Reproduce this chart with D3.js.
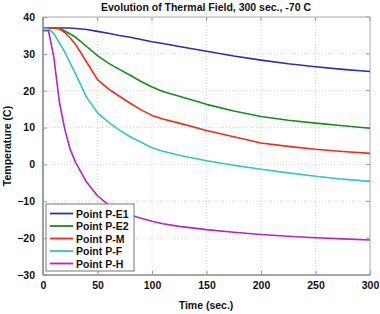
<!DOCTYPE html>
<html><head><meta charset="utf-8">
<script src="https://cdn.jsdelivr.net/npm/d3@7"></script>
<style>
body{margin:0;background:#fff;}
text{font-family:"Liberation Sans",Arial,sans-serif;font-weight:bold;fill:#111;}
</style></head>
<body><svg id="c" width="380" height="314"></svg>
<script>
const title = "Evolution of Thermal Field, 300 sec., -70 C";
const xLabel = "Time (sec.)";
const yLabel = "Temperature (C)";
const xTicks = [0,50,100,150,200,250,300];
const yTicks = [-30,-20,-10,0,10,20,30,40];
const seriesNames = ["Point P-E1","Point P-E2","Point P-M","Point P-F","Point P-H"];
const seriesColors = ["#2b30a8","#1a8a1a","#f22a1a","#33c4c4","#b326c0"];
const time = [0,5,10,15,20,25,30,40,50,60,70,80,90,100,110,125,150,175,200,225,250,275,300];
const tE1 = [37,37,37,37,37,37,36.9,36.6,36.1,35.6,35.0,34.5,33.9,33.3,32.8,32.0,30.7,29.4,28.3,27.3,26.5,25.8,25.2];
const tE2 = [37,37,37,36.9,36.2,35.4,34.5,32.0,29.5,27.5,25.8,24.2,22.5,21.0,19.8,18.5,16.3,14.5,13.0,12.0,11.2,10.5,9.8];
const tM  = [37,37,37,36.8,35.8,34.3,32.5,27.8,23.0,20.5,18.5,16.6,14.8,13.3,12.3,11.2,9.2,7.5,5.8,4.9,4.1,3.5,3.0];
const tF  = [37,36.8,35.5,33.0,30.5,27.5,24.5,18.2,14.0,11.5,9.3,7.5,6.0,4.5,3.6,2.5,1.0,-0.2,-1.3,-2.3,-3.2,-4.0,-4.6];
const tH  = [36.3,36.3,29.0,17.0,9.5,4.0,0.5,-4.8,-8.5,-11.0,-12.5,-13.7,-14.6,-15.4,-16.1,-16.8,-17.7,-18.4,-19.0,-19.5,-19.9,-20.2,-20.5];
const allSeries = [tE1,tE2,tM,tF,tH];

const svg = d3.select("#c");
const L=43,R=370,T=17,B=275;
const x = d3.scaleLinear().domain([0,300]).range([L,R]);
const y = d3.scaleLinear().domain([-30,40]).range([B,T]);

// grid
const g = svg.append("g");
g.selectAll(".gx").data(xTicks.slice(1,-1)).enter().append("line")
  .attr("x1",d=>x(d)).attr("x2",d=>x(d)).attr("y1",T).attr("y2",B)
  .attr("stroke","#d0d0d0").attr("stroke-width",0.8).attr("stroke-dasharray","1,2");
g.selectAll(".gy").data(yTicks.slice(1,-1)).enter().append("line")
  .attr("y1",d=>y(d)).attr("y2",d=>y(d)).attr("x1",L).attr("x2",R)
  .attr("stroke","#d0d0d0").attr("stroke-width",0.8).attr("stroke-dasharray","1,2");

// axes
const xAxis = d3.axisBottom(x).tickValues(xTicks).tickSize(-4).tickPadding(7).tickFormat(d3.format("d"));
const yAxis = d3.axisLeft(y).tickValues(yTicks).tickSize(-4).tickPadding(8).tickFormat(d3.format("d"));
const ax = svg.append("g").attr("transform",`translate(0,${B})`).call(xAxis);
const ay = svg.append("g").attr("transform",`translate(${L},0)`).call(yAxis);
[ax,ay].forEach(a=>{
  a.select(".domain").remove();
  a.selectAll(".tick line").attr("stroke","#999");
  a.selectAll(".tick text").attr("font-size","10.5px").attr("font-weight","bold").attr("fill","#111")
   .attr("font-family","Liberation Sans, Arial, sans-serif");
});
// top/right ticks
svg.selectAll(".tt").data(xTicks).enter().append("line")
  .attr("x1",d=>x(d)).attr("x2",d=>x(d)).attr("y1",T).attr("y2",T+4).attr("stroke","#999");
svg.selectAll(".rt").data(yTicks).enter().append("line")
  .attr("y1",d=>y(d)).attr("y2",d=>y(d)).attr("x1",R).attr("x2",R-4).attr("stroke","#999");

// box
svg.append("rect").attr("x",L).attr("y",T).attr("width",R-L).attr("height",B-T)
  .attr("fill","none").attr("stroke","#aaa").attr("stroke-width",1);
svg.append("line").attr("x1",L).attr("x2",L).attr("y1",T).attr("y2",B).attr("stroke","#999").attr("stroke-width",1.8);
svg.append("line").attr("x1",L).attr("x2",R).attr("y1",B).attr("y2",B).attr("stroke","#999").attr("stroke-width",1.5);

// lines
const line = d3.line().x((d,i)=>x(time[i])).y(d=>y(d));
allSeries.forEach((s,k)=>{
  svg.append("path").datum(s).attr("d",line).attr("fill","none")
    .attr("stroke",seriesColors[k]).attr("stroke-width",1.6).attr("stroke-linejoin","round");
});

// legend
const lg = svg.append("g");
lg.append("rect").attr("x",46).attr("y",204).attr("width",88).attr("height",67)
  .attr("fill","#fff").attr("stroke","#777").attr("stroke-width",1);
seriesNames.forEach((n,k)=>{
  const cy = 213.5 + k*12.5;
  lg.append("line").attr("x1",50).attr("x2",73).attr("y1",cy).attr("y2",cy)
    .attr("stroke",seriesColors[k]).attr("stroke-width",1.8);
  lg.append("text").attr("x",76).attr("y",cy+4).attr("font-size","10.5px").text(n);
});

// labels
svg.append("text").attr("x",206).attr("y",11).attr("text-anchor","middle").attr("font-size","10.5px").text(title);
svg.append("text").attr("x",206).attr("y",309).attr("text-anchor","middle").attr("font-size","10.5px").text(xLabel);
svg.append("text").attr("transform",`translate(11,146) rotate(-90)`).attr("text-anchor","middle").attr("font-size","10.5px").text(yLabel);
</script></body></html>
